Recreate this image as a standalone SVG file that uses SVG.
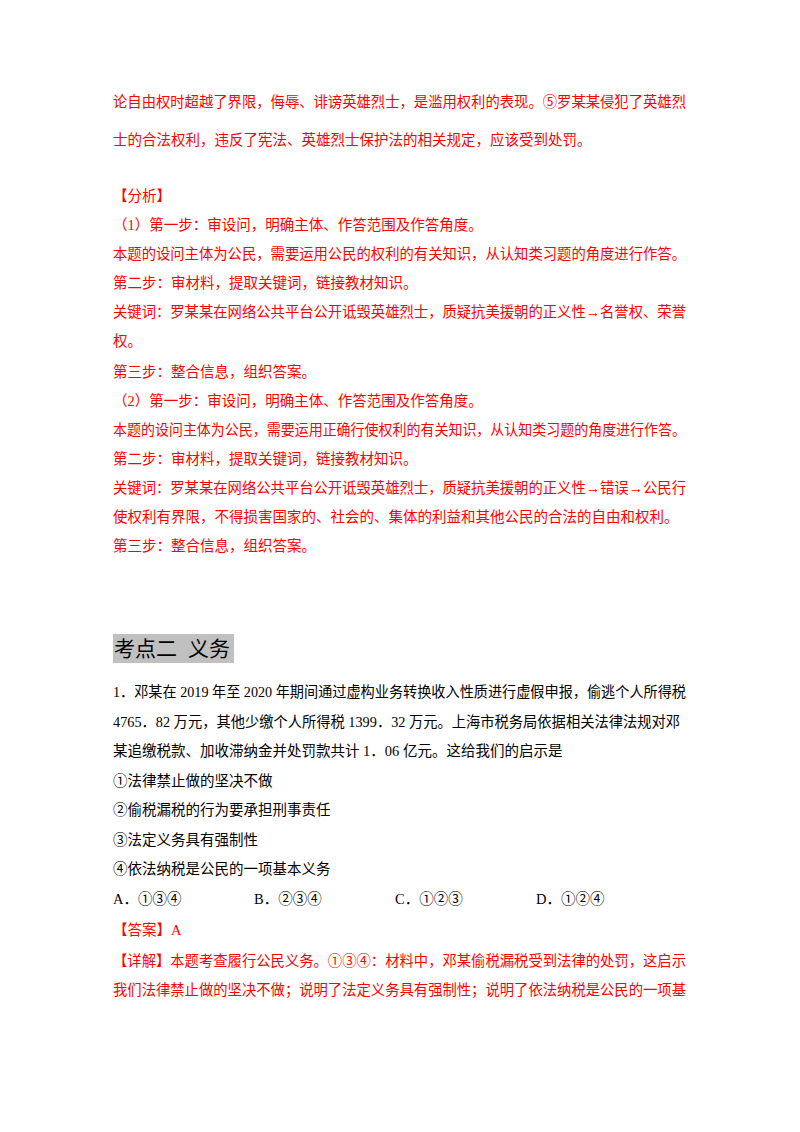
<svg xmlns="http://www.w3.org/2000/svg" width="800" height="1132" viewBox="0 0 800 1132">
<style>
text{font-family:"Liberation Serif","Noto Sans CJK SC",serif;font-size:14.5px}
.r{fill:#f00}
.k{fill:#000}
.h{font-family:"Liberation Sans","Noto Sans CJK SC",sans-serif;font-size:21px;fill:#000}
</style>
<rect width="800" height="1132" fill="#fff"/>
<g id="analysis">
<text class="r" x="113" y="107" textLength="573" lengthAdjust="spacingAndGlyphs">论自由权时超越了界限，侮辱、诽谤英雄烈士，是滥用权利的表现。⑤罗某某侵犯了英雄烈</text>
<text class="r" x="113" y="145">士的合法权利，违反了宪法、英雄烈士保护法的相关规定，应该受到处罚。</text>
<text class="r" x="113" y="201">【分析】</text>
<text class="r" x="113" y="230">（1）第一步：审设问，明确主体、作答范围及作答角度。</text>
<text class="r" x="113" y="259" textLength="573" lengthAdjust="spacingAndGlyphs">本题的设问主体为公民，需要运用公民的权利的有关知识，从认知类习题的角度进行作答。</text>
<text class="r" x="113" y="288">第二步：审材料，提取关键词，链接教材知识。</text>
<text class="r" x="113" y="317" textLength="573" lengthAdjust="spacingAndGlyphs">关键词：罗某某在网络公共平台公开诋毁英雄烈士，质疑抗美援朝的正义性→名誉权、荣誉</text>
<text class="r" x="113" y="346">权。</text>
<text class="r" x="113" y="377">第三步：整合信息，组织答案。</text>
<text class="r" x="113" y="406">（2）第一步：审设问，明确主体、作答范围及作答角度。</text>
<text class="r" x="113" y="435" textLength="573" lengthAdjust="spacingAndGlyphs">本题的设问主体为公民，需要运用正确行使权利的有关知识，从认知类习题的角度进行作答。</text>
<text class="r" x="113" y="464">第二步：审材料，提取关键词，链接教材知识。</text>
<text class="r" x="113" y="493" textLength="573" lengthAdjust="spacingAndGlyphs">关键词：罗某某在网络公共平台公开诋毁英雄烈士，质疑抗美援朝的正义性→错误→公民行</text>
<text class="r" x="113" y="522">使权利有界限，不得损害国家的、社会的、集体的利益和其他公民的合法的自由和权利。</text>
<text class="r" x="113" y="551">第三步：整合信息，组织答案。</text>
</g>
<g id="heading">
<rect x="113" y="634" width="121" height="29" fill="#c0c0c0"/>
<text class="h" x="114" y="656">考点二</text>
<text class="h" x="188" y="656">义务</text>
</g>
<g id="question">
<text class="k" x="113" y="697" textLength="573" lengthAdjust="spacingAndGlyphs">1．邓某在 2019 年至 2020 年期间通过虚构业务转换收入性质进行虚假申报，偷逃个人所得税</text>
<text class="k" x="113" y="727" textLength="567" lengthAdjust="spacingAndGlyphs">4765．82 万元，其他少缴个人所得税 1399．32 万元。上海市税务局依据相关法律法规对邓</text>
<text class="k" x="113" y="756">某追缴税款、加收滞纳金并处罚款共计 1．06 亿元。这给我们的启示是</text>
<text class="k" x="113" y="786">①法律禁止做的坚决不做</text>
<text class="k" x="113" y="815">②偷税漏税的行为要承担刑事责任</text>
<text class="k" x="113" y="845">③法定义务具有强制性</text>
<text class="k" x="113" y="874">④依法纳税是公民的一项基本义务</text>
<text class="k" x="113" y="904">A．①③④</text>
<text class="k" x="254" y="904">B．②③④</text>
<text class="k" x="395" y="904">C．①②③</text>
<text class="k" x="536" y="904">D．①②④</text>
<text class="r" x="113" y="935">【答案】A</text>
<text class="r" x="113" y="966" textLength="573" lengthAdjust="spacingAndGlyphs">【详解】本题考查履行公民义务。①③④：材料中，邓某偷税漏税受到法律的处罚，这启示</text>
<text class="r" x="113" y="995" textLength="573" lengthAdjust="spacingAndGlyphs">我们法律禁止做的坚决不做；说明了法定义务具有强制性；说明了依法纳税是公民的一项基</text>
</g>
</svg>
